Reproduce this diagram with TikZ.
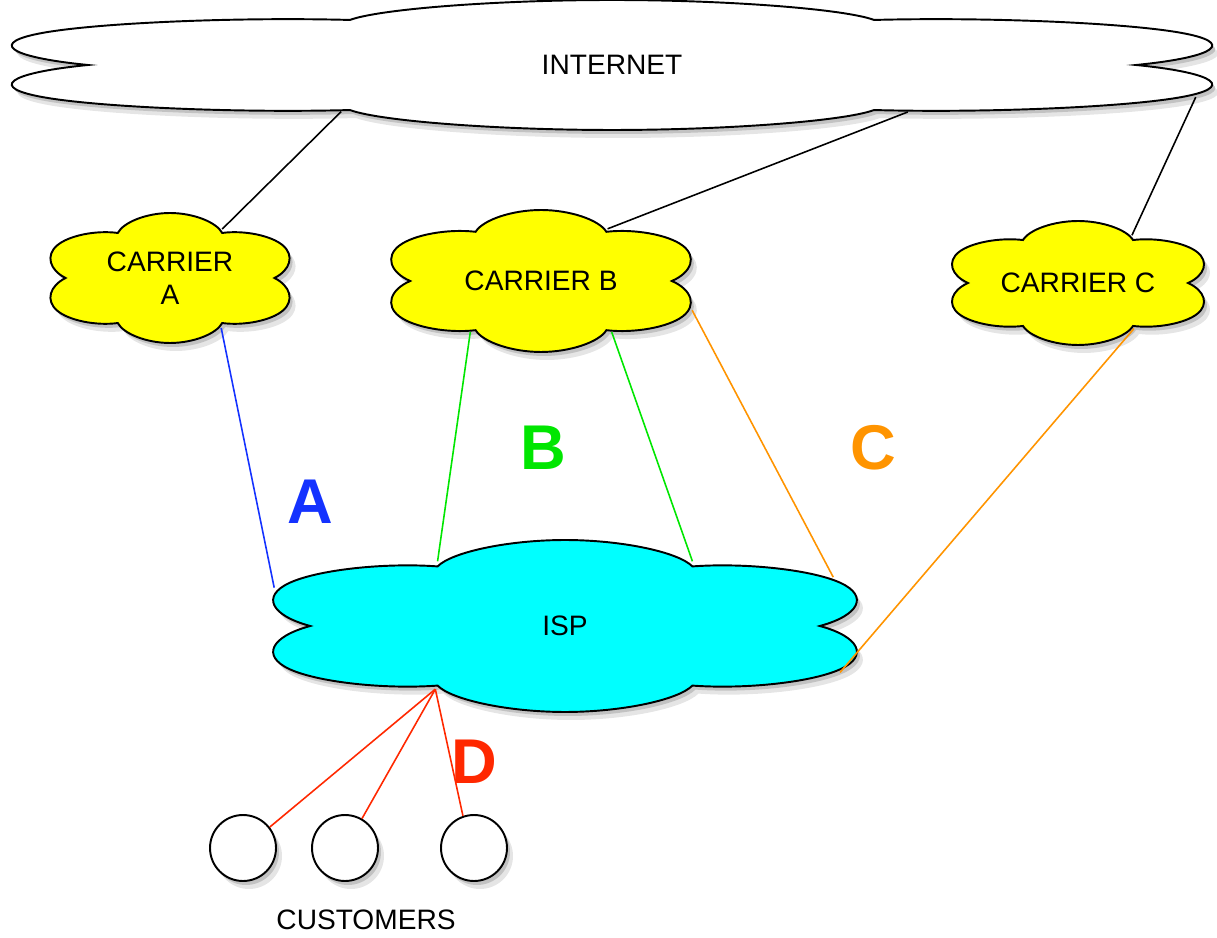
\documentclass[tikz,border=0pt]{standalone}
\usepackage{fontspec}
\setmainfont{Liberation Sans}
\usetikzlibrary{shapes.symbols}
\definecolor{linkA}{RGB}{20,50,255}
\definecolor{linkB}{RGB}{0,230,0}
\definecolor{linkC}{RGB}{255,148,0}
\definecolor{linkD}{RGB}{255,40,0}
\definecolor{ispfill}{RGB}{0,255,255}
\definecolor{carfill}{RGB}{255,255,0}
\tikzset{
  net/.style={cloud, draw, line width=1.1pt, cloud ignores aspect, inner sep=0pt,
    minimum size=2cm, cloud puffs=6, shape border rotate=30},
  shadeout/.style={draw=none, fill=black!10},
  shadein/.style={draw=none, fill=black!24},
  lbl/.style={font=\fontsize{16}{19}\selectfont, align=center},
  cust/.style={circle, draw, line width=1.1pt, fill=white, minimum size=1.32cm},
  tag/.style={font=\fontsize{36}{40}\selectfont\bfseries},
  link/.style={line width=0.9pt}
}

\begin{document}
\begin{tikzpicture}[x=0.02cm, y=0.02cm]
  \useasboundingbox (0,0) rectangle (1217,937);
  % shadows
  \node[net, shadeout, xscale=13.1, yscale=1.3] at (618,864) (inetShadeA) {};
  \node[net, shadein, xscale=13.1, yscale=1.3] at (615,868) (inetShadeB) {};
  \node[net, shadeout, xscale=2.61, yscale=1.3] at (176,651) (carAShadeA) {};
  \node[net, shadein, xscale=2.61, yscale=1.3] at (173,655) (carAShadeB) {};
  \node[net, shadeout, xscale=3.27, yscale=1.42] at (547,648) (carBShadeA) {};
  \node[net, shadein, xscale=3.27, yscale=1.42] at (544,652) (carBShadeB) {};
  \node[net, shadeout, xscale=2.75, yscale=1.24] at (1084,646) (carCShadeA) {};
  \node[net, shadein, xscale=2.75, yscale=1.24] at (1081,650) (carCShadeB) {};
  \node[net, shadeout, xscale=6.37, yscale=1.72] at (571,303) (ispShadeA) {};
  \node[net, shadein, xscale=6.37, yscale=1.72] at (568,307) (ispShadeB) {};
  \node[cust, shadeout] at (249,81) (c1ShadeA) {};
  \node[cust, shadein] at (246,85) (c1ShadeB) {};
  \node[cust, shadeout] at (351,81) (c2ShadeA) {};
  \node[cust, shadein] at (348,85) (c2ShadeB) {};
  \node[cust, shadeout] at (480,81) (c3ShadeA) {};
  \node[cust, shadein] at (477,85) (c3ShadeB) {};
  % clouds
  \node[net, fill=white, xscale=13.1, yscale=1.3] at (612,872) (inet) {};
  \node[net, fill=carfill, xscale=2.61, yscale=1.3] at (170,659) (carA) {};
  \node[net, fill=carfill, xscale=3.27, yscale=1.42] at (541,656) (carB) {};
  \node[net, fill=carfill, xscale=2.75, yscale=1.24] at (1078,654) (carC) {};
  \node[net, fill=ispfill, xscale=6.37, yscale=1.72] at (565,311) (isp) {};
  \node[lbl] at (inet) (inetText) {INTERNET};
  \node[lbl] at (carA) (carAText) {CARRIER\\A};
  \node[lbl] at (carB) (carBText) {CARRIER B};
  \node[lbl] at (carC) (carCText) {CARRIER C};
  \node[lbl] at (isp) (ispText) {ISP};
  \node[cust] at (243,89) (c1) {};
  \node[cust] at (345,89) (c2) {};
  \node[cust] at (474,89) (c3) {};
  \node[lbl] at (366,17) (custs) {CUSTOMERS};
  % uplinks
  \draw[link] (inet.240) -- (carA.62);
  \draw[link] (inet.302) -- (carB.61);
  \draw[link] (inet.331) -- (carC.63);
  % carrier to isp
  \draw[link, linkA] (carA.297) -- (isp.154);
  \draw[link, linkB] (carB.239) -- (isp.118);
  \draw[link, linkB] (carB.301) -- (isp.62);
  \draw[link, linkC] (carB.336) -- (isp.34);
  \draw[link, linkC] (carC.299) -- (isp.328);
  % customers
  \draw[link, linkD] (isp.241) -- (c1.38);
  \draw[link, linkD] (isp.241) -- (c2.60);
  \draw[link, linkD] (isp.241) -- (c3.109);
  \node[tag, linkA] at (310,435) (tA) {A};
  \node[tag, linkB] at (543,489) (tB) {B};
  \node[tag, linkC] at (873,489) (tC) {C};
  \node[tag, linkD] at (474,175) (tD) {D};
\end{tikzpicture}
\end{document}
